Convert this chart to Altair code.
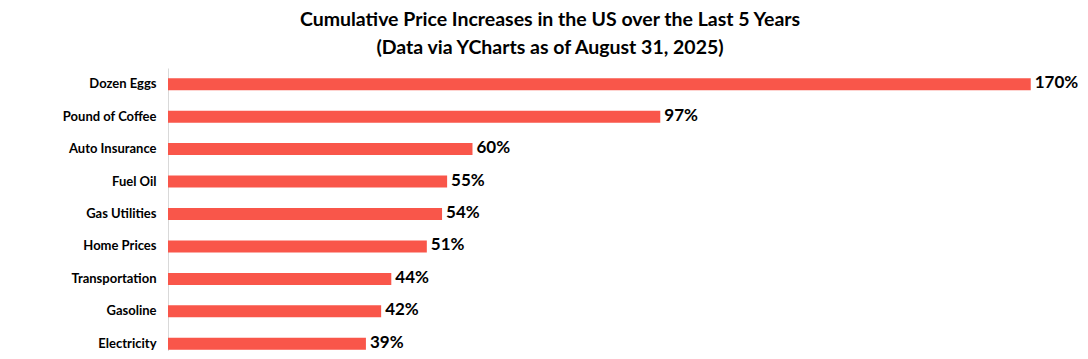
import altair as alt
import pandas as pd

categories = ["Dozen Eggs", "Pound of Coffee", "Auto Insurance", "Fuel Oil", "Gas Utilities",
              "Home Prices", "Transportation", "Gasoline", "Electricity"]
values = [170, 97, 60, 55, 54, 51, 44, 42, 39]

df = pd.DataFrame({"item": categories, "pct": values})
df["label"] = df["pct"].astype(str) + "%"

FONT = "Lato"

base = alt.Chart(df).encode(
    y=alt.Y("item:N", sort=categories, title=None,
            scale=alt.Scale(paddingInner=0.6, paddingOuter=0.3),
            axis=alt.Axis(labelFont=FONT, labelFontSize=13, labelFontWeight="bold",
                          labelColor="#000000", ticks=False, labelPadding=12,
                          domainColor="#d9d9d9", domainWidth=1)),
    x=alt.X("pct:Q", title=None, scale=alt.Scale(domain=[0, 173.4], nice=False),
            axis=None),
)

bars = base.mark_bar(color="#F9564A", size=12)
text = base.mark_text(align="left", dx=4, font=FONT, fontSize=17, fontWeight="bold",
                      color="#000000", baseline="middle", dy=-1).encode(text="label:N")

chart = (bars + text).properties(
    width=880, height=292,
    title=alt.TitleParams(
        ["Cumulative Price Increases in the US over the Last 5 Years",
         "(Data via YCharts as of August 31, 2025)"],
        font=FONT, fontSize=19.5, fontWeight="bold", color="#000000",
        lineHeight=28, dx=-58, offset=10, anchor="middle"),
    padding={"left": 160, "top": 60, "right": 32, "bottom": -9},
    autosize=alt.AutoSizeParams(type="none"),
).configure_view(stroke=None)

chart.save("out.html", embed_options={"renderer": "svg", "actions": False})
